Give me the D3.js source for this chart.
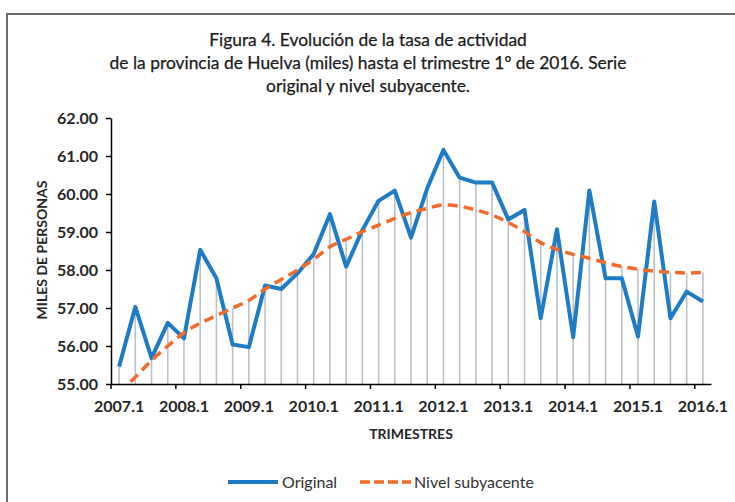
<!DOCTYPE html>
<html>
<head>
<meta charset="utf-8">
<script src="https://cdn.jsdelivr.net/npm/d3@7/dist/d3.min.js"></script>
<style>
  html, body { margin: 0; padding: 0; background: #fff; }
  svg { display: block; }
</style>
</head>
<body>
<svg id="chart" width="735" height="502"></svg>
<script>
// ---- Data ----
const categories = [
  "2007.1","2007.2","2007.3","2007.4",
  "2008.1","2008.2","2008.3","2008.4",
  "2009.1","2009.2","2009.3","2009.4",
  "2010.1","2010.2","2010.3","2010.4",
  "2011.1","2011.2","2011.3","2011.4",
  "2012.1","2012.2","2012.3","2012.4",
  "2013.1","2013.2","2013.3","2013.4",
  "2014.1","2014.2","2014.3","2014.4",
  "2015.1","2015.2","2015.3","2015.4",
  "2016.1"
];
const original = [
  55.46, 57.03, 55.68, 56.61,
  56.20, 58.53, 57.78, 56.04,
  55.97, 57.59, 57.50, 57.91,
  58.42, 59.47, 58.09, 59.05,
  59.82, 60.09, 58.85, 60.15,
  61.16, 60.43, 60.30, 60.30,
  59.33, 59.58, 56.73, 59.07,
  56.23, 60.09, 57.78, 57.78,
  56.25, 59.80, 56.73, 57.43,
  57.17
];
const nivel = [
  54.77, 55.18, 55.62, 56.00,
  56.35, 56.60, 56.80, 57.00,
  57.20, 57.50, 57.75, 58.00,
  58.28, 58.61, 58.81, 59.01,
  59.18, 59.36, 59.51, 59.62,
  59.71, 59.68, 59.58, 59.45,
  59.25, 59.01, 58.72, 58.54,
  58.41, 58.31, 58.19, 58.09,
  58.02, 57.97, 57.94, 57.92,
  57.94
];
const yTicks = [55, 56, 57, 58, 59, 60, 61, 62];
const xTickLabels = ["2007.1","2008.1","2009.1","2010.1","2011.1","2012.1","2013.1","2014.1","2015.1","2016.1"];
const titleLines = [
  "Figura 4. Evolución de la tasa de actividad",
  "de la provincia de Huelva (miles) hasta el trimestre 1º de 2016. Serie",
  "original y nivel subyacente."
];

(function () {
// ---- Layout ----
const svg = d3.select("#chart");
const pLeft = 111, pRight = 711, pTop = 118, pBottom = 384;
const fontFam = "Lato, 'Open Sans', sans-serif";

const x = d3.scaleBand().domain(categories).range([pLeft, pRight]).paddingInner(0).paddingOuter(0);
const y = d3.scaleLinear().domain([55, 62]).range([pBottom, pTop]);
const cx = d => x(d) + x.bandwidth() / 2;

// outer frame
svg.append("path")
  .attr("d", `M7,540 L7,14 L740,14`)
  .attr("fill", "none").attr("stroke", "#6b6b6b").attr("stroke-width", 2);

// title
svg.append("g").selectAll("text").data(titleLines).join("text")
  .attr("x", 368).attr("y", (d, i) => 46 + i * 23)
  .attr("text-anchor", "middle")
  .attr("font-family", fontFam).attr("font-size", 17.4).attr("font-weight", 400)
  .attr("fill", "#1a1a1a").attr("stroke", "#1a1a1a").attr("stroke-width", 0.25)
  .text(d => d);

// clip
svg.append("defs").append("clipPath").attr("id", "plotclip")
  .append("rect").attr("x", pLeft).attr("y", pTop - 10).attr("width", pRight - pLeft + 5).attr("height", pBottom - pTop + 10);

// drop lines
svg.append("g").selectAll("line").data(categories).join("line")
  .attr("x1", d => cx(d)).attr("x2", d => cx(d))
  .attr("y1", (d, i) => y(Math.max(original[i], nivel[i])))
  .attr("y2", pBottom)
  .attr("stroke", "#bcc0c8").attr("stroke-width", 1.6);

// y axis
const yAxis = svg.append("g").attr("transform", `translate(${pLeft},0)`)
  .call(d3.axisLeft(y).tickValues(yTicks).tickFormat(d3.format(".2f")).tickSize(5).tickSizeOuter(0));
yAxis.select(".domain").attr("stroke", "#000").attr("stroke-width", 1.5);
yAxis.selectAll(".tick line").attr("stroke", "#000").attr("stroke-width", 1.5);
yAxis.selectAll(".tick text")
  .attr("x", -13)
  .attr("font-family", fontFam).attr("font-size", 16).attr("font-weight", 700).attr("fill", "#262626");

// x axis
const xAxis = svg.append("g").attr("transform", `translate(0,${pBottom})`)
  .call(d3.axisBottom(x).tickValues(xTickLabels).tickSize(0).tickSizeOuter(0));
xAxis.select(".domain").attr("stroke", "#000").attr("stroke-width", 1.5);
xAxis.selectAll(".tick text")
  .attr("y", 17)
  .attr("font-family", fontFam).attr("font-size", 16).attr("font-weight", 700).attr("fill", "#262626");
// tick marks at category boundaries every 4 quarters
svg.append("g").selectAll("line").data(xTickLabels).join("line")
  .attr("x1", d => x(d)).attr("x2", d => x(d))
  .attr("y1", pBottom).attr("y2", pBottom + 5)
  .attr("stroke", "#000").attr("stroke-width", 1.5);

// axis titles
svg.append("text").attr("x", 411).attr("y", 439).attr("text-anchor", "middle")
  .attr("font-family", fontFam).attr("font-size", 14).attr("font-weight", 700).attr("fill", "#262626")
  .text("TRIMESTRES");
svg.append("text").attr("transform", "translate(47,250) rotate(-90)").attr("text-anchor", "middle")
  .attr("font-family", fontFam).attr("font-size", 14).attr("font-weight", 700).attr("fill", "#262626")
  .text("MILES DE PERSONAS");

// lines
const plot = svg.append("g").attr("clip-path", "url(#plotclip)");
plot.append("path").attr("d", d3.line().x((d, i) => cx(categories[i])).y(d => y(d))(original))
  .attr("fill", "none").attr("stroke", "#1f7bc4").attr("stroke-width", 4)
  .attr("stroke-linejoin", "round");
plot.append("path").attr("d", d3.line().curve(d3.curveMonotoneX).x((d, i) => cx(categories[i])).y(d => y(d))(nivel))
  .attr("fill", "none").attr("stroke", "#f26b2b").attr("stroke-width", 3.5)
  .attr("stroke-dasharray", "10,6");

// legend
const lg = svg.append("g");
lg.append("line").attr("x1", 228).attr("x2", 278).attr("y1", 482).attr("y2", 482)
  .attr("stroke", "#1f7bc4").attr("stroke-width", 4);
lg.append("text").attr("x", 282).attr("y", 487.5).attr("font-family", fontFam).attr("font-size", 16)
  .attr("fill", "#333").text("Original");
lg.append("line").attr("x1", 360).attr("x2", 411).attr("y1", 482).attr("y2", 482)
  .attr("stroke", "#f26b2b").attr("stroke-width", 3.5).attr("stroke-dasharray", "10,4");
lg.append("text").attr("x", 414).attr("y", 487.5).attr("font-family", fontFam).attr("font-size", 16)
  .attr("fill", "#333").text("Nivel subyacente");
})();
</script>
</body>
</html>
